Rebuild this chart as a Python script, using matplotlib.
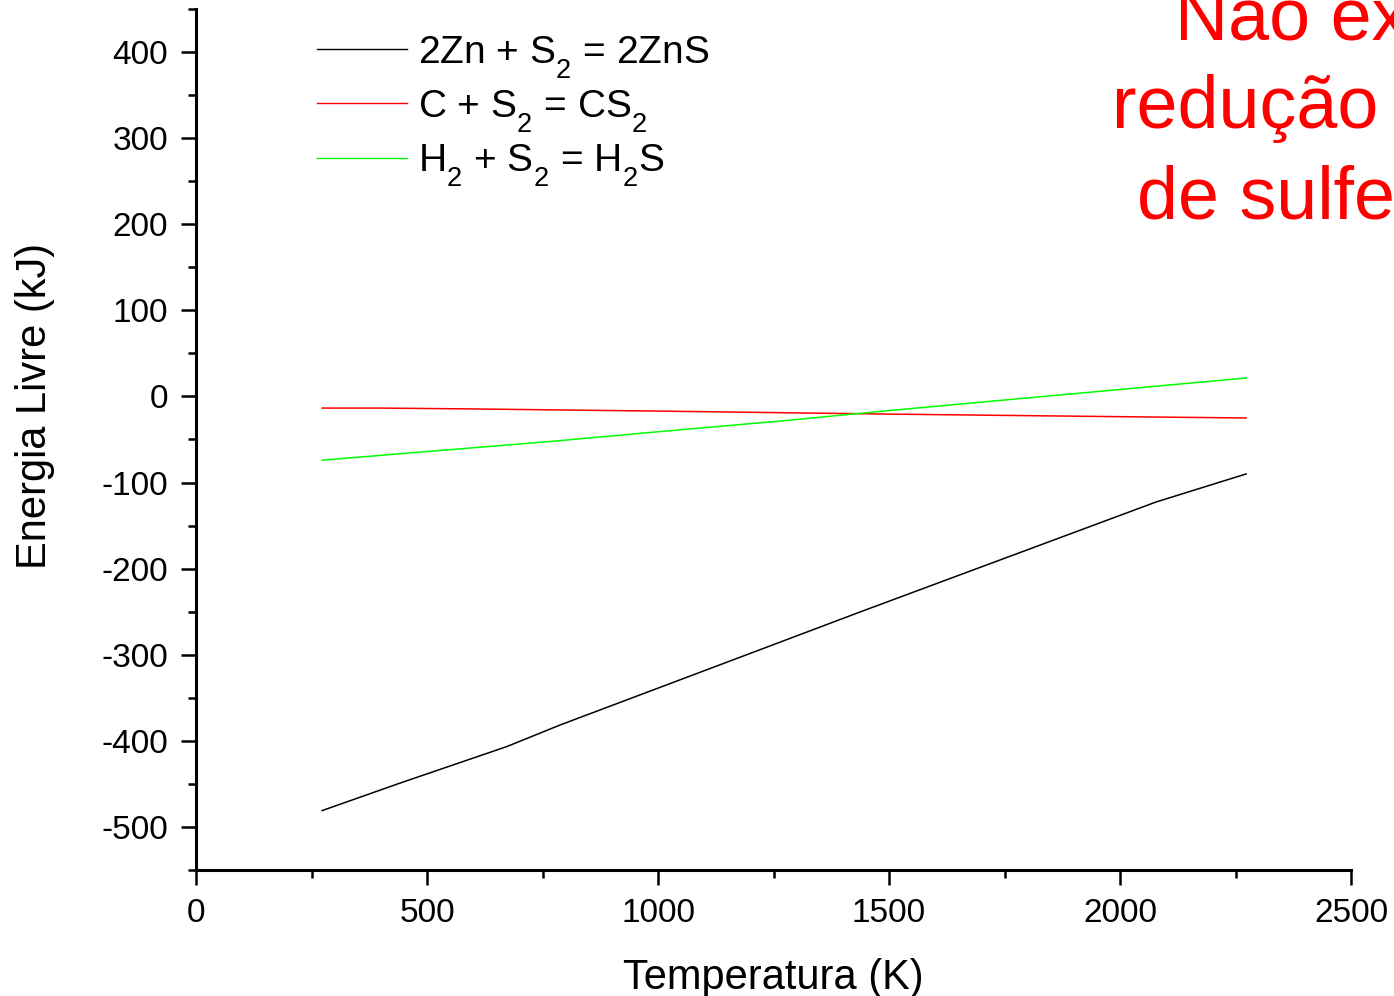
import matplotlib
matplotlib.use("Agg")
import matplotlib.pyplot as plt
from matplotlib.ticker import MultipleLocator

plt.rcParams['font.family'] = ['Liberation Sans', 'DejaVu Sans']
plt.rcParams['mathtext.fontset'] = 'custom'
plt.rcParams['mathtext.rm'] = 'Liberation Sans'
plt.rcParams['mathtext.it'] = 'Liberation Sans'
plt.rcParams['axes.unicode_minus'] = False
try:
    import matplotlib._mathtext as _mt
    _mt.FontConstantsBase.sub1 = 0.75
    _mt.FontConstantsBase.sub2 = 0.9
except Exception:
    pass

# Data
T_zn = [273, 442, 673, 788, 1180, 1437, 2078, 2273]
G_zn = [-481, -449, -406.6, -381.6, -302.4, -250.4, -122.6, -90]
T_c = [273, 400, 600, 1000, 1500, 2000, 2273]
G_c = [-13.5, -13.5, -14.5, -17, -20.5, -23.5, -25]
T_h = [273, 500, 773, 1000, 1264, 1500, 1800, 2000, 2273]
G_h = [-74, -64, -52, -41, -28.6, -16.4, -1.7, 8.1, 21.4]

labels = [r'2Zn + S$_\mathregular{2}$ = 2ZnS',
          r'C + S$_\mathregular{2}$ = CS$_\mathregular{2}$',
          r'H$_\mathregular{2}$ + S$_\mathregular{2}$ = H$_\mathregular{2}$S']
colors = ['#000000', '#ff0000', '#00ff00']
xticks = [0, 500, 1000, 1500, 2000, 2500]
yticks = [-500, -400, -300, -200, -100, 0, 100, 200, 300, 400]
annot_lines = ['Não existe', 'redução', 'de sulfetos']

fig = plt.figure(figsize=(13.94, 9.96), dpi=100)
ax = fig.add_axes([196/1394, 1-870/996, 1155/1394, 861/996])

ax.plot(T_zn, G_zn, color=colors[0], lw=1.1, label=labels[0])
ax.plot(T_c, G_c, color=colors[1], lw=1.1, label=labels[1])
ax.plot(T_h, G_h, color=colors[2], lw=1.1, label=labels[2])

ax.set_xlim(0, 2500)
ax.set_ylim(-550, 450)
ax.set_xticks(xticks)
ax.set_yticks(yticks)
ax.xaxis.set_minor_locator(MultipleLocator(250))
ax.yaxis.set_minor_locator(MultipleLocator(50))

for s in ['top', 'right']:
    ax.spines[s].set_visible(False)
for s in ['left', 'bottom']:
    ax.spines[s].set_linewidth(2.2)

ax.tick_params(which='major', length=11, width=1.8, labelsize=24, pad=9)
ax.tick_params(which='minor', length=6, width=1.8)

ax.set_xlabel('Temperatura (K)', fontsize=30, labelpad=21)
fig.text(35/1394, 1-406/996, 'Energia Livre (kJ)', fontsize=30,
         rotation=90, ha='center', va='center')

leg = ax.legend(loc='upper left', bbox_to_anchor=(0.105, 0.971), frameon=False,
                fontsize=28, handlelength=2.3, handletextpad=0.3,
                labelspacing=0.19, borderpad=0, borderaxespad=0)
for h in leg.get_lines():
    h.set_linewidth(1.0)

ys = [39, 128, 218]
xs = [1175, 1112, 1137]
for txt, x, y in zip(annot_lines, xs, ys):
    fig.text(x/1394, 1-y/996, txt, color='#ff0000', fontsize=53,
             ha='left', va='baseline')

fig.savefig('out.png', dpi=100)
